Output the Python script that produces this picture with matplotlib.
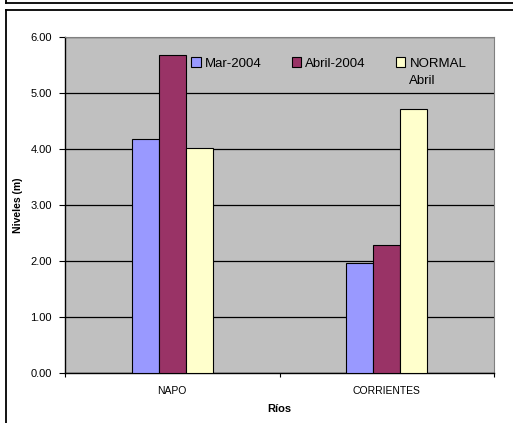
import matplotlib
matplotlib.use('Agg')
from matplotlib import pyplot as plt
from matplotlib.lines import Line2D

import numpy as np

plt.rcParams['font.family'] = ['Liberation Sans', 'DejaVu Sans']

rios = ['NAPO', 'CORRIENTES']
series_names = ['Mar-2004', 'Abril-2004', 'NORMAL']
normal_second_line = 'Abril'
mar_2004 = [4.18, 1.97]
abril_2004 = [5.67, 2.29]
normal_abril = [4.02, 4.71]
y_ticks = [0, 1, 2, 3, 4, 5, 6]

colors = ['#9999FF', '#993366', '#FFFFCC']

fig = plt.figure(figsize=(5.13, 4.23), dpi=100)

# frame lines of the surrounding boxes (cropped page)
W, H = 513.0, 423.0
for xs, ys in [([6, 6], [0, 3]), ([6, 513], [3, 3]),
               ([6, 6], [10, 423]), ([6, 513], [10, 10])]:
    fig.add_artist(Line2D([v / W for v in xs], [1 - v / H for v in ys],
                          transform=fig.transFigure, color='black',
                          linewidth=1.3))

ax = fig.add_axes([65 / W, 50 / H, 429 / W, 336 / H])
ax.set_facecolor('#C0C0C0')

x = np.arange(len(rios))
width = 27 / 214.5
all_series = [mar_2004, abril_2004, normal_abril]
for i, (vals, name) in enumerate(zip(all_series, series_names)):
    ax.bar(x + (i - 1) * width, vals, width, color=colors[i],
           edgecolor='black', linewidth=0.8, label=name, zorder=3)

ax.set_xlim(-0.5, 1.5)
ax.set_ylim(0, 6)
ax.set_yticks(y_ticks)
ax.set_yticklabels(['%.2f' % v for v in y_ticks], fontsize=8)
ax.yaxis.grid(True, color='black', linewidth=0.9, zorder=1)
ax.set_axisbelow(True)

ax.set_xticks([-0.5, 0.5, 1.5])
ax.set_xticklabels(['', '', ''])
ax.set_xticks(x, minor=True)
ax.set_xticklabels(rios, minor=True, fontsize=7.5)
ax.tick_params(axis='x', which='minor', length=0, pad=9)
ax.tick_params(axis='x', which='major', length=3, direction='out')
ax.tick_params(axis='y', length=4, pad=5.5)

for side in ['top', 'right']:
    ax.spines[side].set_color('#808080')
    ax.spines[side].set_linewidth(0.8)
for side in ['left', 'bottom']:
    ax.spines[side].set_linewidth(1.0)

ax.set_ylabel('Niveles (m)', fontsize=7.5, fontweight='bold', labelpad=5)
ax.set_xlabel('Ríos', fontsize=8, fontweight='bold', labelpad=6)

leg = ax.legend(loc='upper left', bbox_to_anchor=(0.282, 0.955), ncol=3,
                frameon=False, fontsize=9.5, handlelength=0.75,
                handleheight=0.75, handletextpad=0.3, columnspacing=2.25,
                borderaxespad=0)

# second line of the NORMAL label, under its first line
fig.canvas.draw()
bb = leg.get_texts()[2].get_window_extent()
fig.text(bb.x0 / W, (bb.y0 - 5) / H, normal_second_line, fontsize=9.5,
         ha='left', va='top')

fig.savefig('out.png', dpi=100)
